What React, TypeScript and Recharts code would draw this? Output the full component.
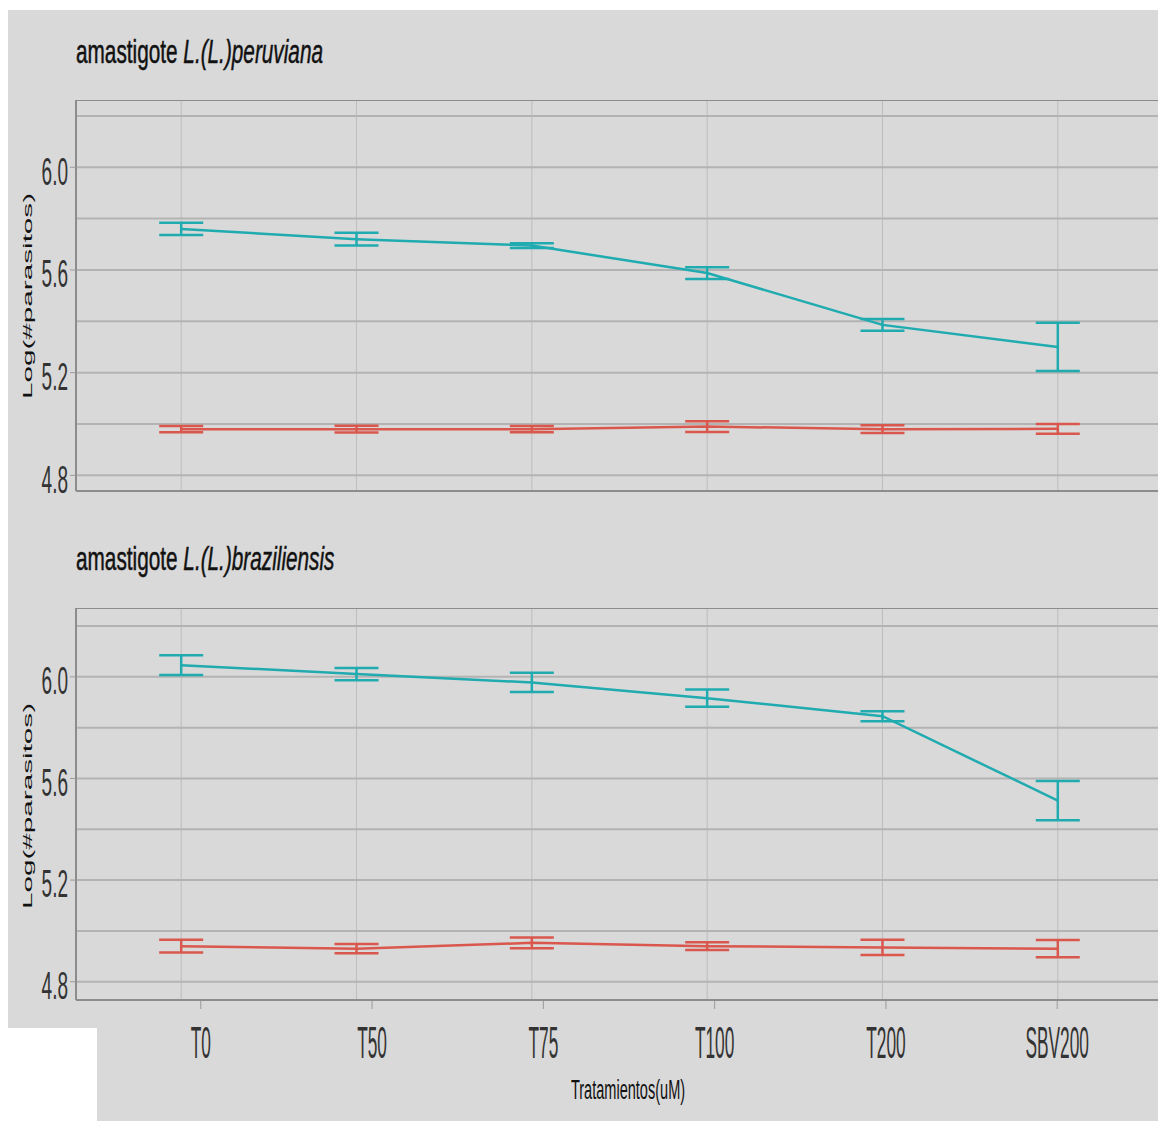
import { ComposedChart, Line, ErrorBar, XAxis, YAxis, CartesianGrid, ReferenceLine } from 'recharts';

// treatments on the shared x axis
const TREATMENTS = ['T0', 'T50', 'T75', 'T100', 'T200', 'SBV200'];
const X_TICKS = [0, 1, 2, 3, 4, 5];
const Y_TICKS = [4.8, 5.0, 5.2, 5.4, 5.6, 5.8, 6.0, 6.2];
const Y_LABELED = [4.8, 5.2, 5.6, 6.0];

// amastigote L.(L.)peruviana
const PERU_TEAL = [5.76, 5.72, 5.695, 5.588, 5.386, 5.3];
const PERU_TEAL_ERR = [0.024, 0.025, 0.009, 0.023, 0.023, 0.094];
const PERU_RED = [4.98, 4.98, 4.98, 4.99, 4.98, 4.981];
const PERU_RED_ERR = [0.012, 0.013, 0.012, 0.021, 0.015, 0.019];

// amastigote L.(L.)braziliensis
const BRAZ_TEAL = [6.046, 6.011, 5.978, 5.916, 5.845, 5.513];
const BRAZ_TEAL_ERR = [0.039, 0.024, 0.038, 0.034, 0.02, 0.077];
const BRAZ_RED = [4.94, 4.93, 4.953, 4.94, 4.935, 4.93];
const BRAZ_RED_ERR = [0.025, 0.018, 0.021, 0.015, 0.03, 0.034];

const BG = '#d9d9d9';
const TEAL = '#1fabb0';
const RED = '#d9574d';
const BORDER = '#8c8c8c';
const FONT = '"Liberation Sans", Arial, sans-serif';

const PLOT_LEFT = 76;
const PLOT_W = 1087;
const PAD_BOTTOM = 24; // room for the lowest tick label under the plot

const buildRows = (teal: number[], tealErr: number[], red: number[], redErr: number[]) =>
  TREATMENTS.map((name, i) => ({
    pos: i,
    name,
    teal: teal[i],
    tealErr: tealErr[i],
    red: red[i],
    redErr: redErr[i],
  }));

const peruRows = buildRows(PERU_TEAL, PERU_TEAL_ERR, PERU_RED, PERU_RED_ERR);
const brazRows = buildRows(BRAZ_TEAL, BRAZ_TEAL_ERR, BRAZ_RED, BRAZ_RED_ERR);

function YTick({ x, y, payload }: any) {
  const v = payload.value;
  if (!Y_LABELED.some(l => Math.abs(l - v) < 1e-6)) return <g />;
  return (
    <g>
      <line x1={x + 2} x2={x + 8} y1={y} y2={y} stroke="#9a9a9a" strokeWidth={1} />
      <text
        transform={`translate(${x}, ${y + 4}) scale(0.5, 1)`}
        textAnchor="end"
        dominantBaseline="central"
        fontSize={38}
        fontFamily={FONT}
        fill="#333"
      >
        {v.toFixed(1)}
      </text>
    </g>
  );
}

function XTick({ x, y, payload }: any) {
  return (
    <text
      transform={`translate(${x}, ${y + 31}) scale(0.385, 1)`}
      textAnchor="middle"
      dominantBaseline="central"
      fontSize={45}
      fontFamily={FONT}
      fill="#333"
    >
      {TREATMENTS[payload.value]}
    </text>
  );
}

function Panel({ rows, domain, top, height }: { rows: any[]; domain: [number, number]; top: number; height: number }) {
  return (
    <div style={{ position: 'absolute', left: 0, top, width: PLOT_LEFT + PLOT_W, height: height + PAD_BOTTOM }}>
      <ComposedChart
        width={PLOT_LEFT + PLOT_W}
        height={height + PAD_BOTTOM}
        data={rows}
        margin={{ top: 0, right: 0, bottom: PAD_BOTTOM, left: 0 }}
      >
        <CartesianGrid horizontal={false} stroke="#bdbdbd" strokeWidth={1} />
        <CartesianGrid vertical={false} stroke="#b3b3b3" strokeWidth={2} />
        <XAxis type="number" dataKey="pos" domain={[-0.6, 5.6]} ticks={X_TICKS} hide />
        <YAxis
          type="number"
          domain={domain}
          ticks={Y_TICKS}
          interval={0}
          allowDataOverflow
          width={PLOT_LEFT}
          tickLine={false}
          axisLine={{ stroke: BORDER, strokeWidth: 2 }}
          tick={<YTick />}
        />
        <ReferenceLine y={domain[1]} stroke={BORDER} strokeWidth={2} ifOverflow="extendDomain" />
        <ReferenceLine y={domain[0]} stroke={BORDER} strokeWidth={2} ifOverflow="extendDomain" />
        <Line dataKey="red" stroke={RED} strokeWidth={2.5} dot={false} isAnimationActive={false}>
          <ErrorBar dataKey="redErr" width={22} stroke={RED} strokeWidth={2.5} isAnimationActive={false} />
        </Line>
        <Line dataKey="teal" stroke={TEAL} strokeWidth={2.5} dot={false} isAnimationActive={false}>
          <ErrorBar dataKey="tealErr" width={22} stroke={TEAL} strokeWidth={2.5} isAnimationActive={false} />
        </Line>
      </ComposedChart>
    </div>
  );
}

export default function App() {
  return (
    <div style={{ position: 'absolute', left: 0, top: 0, width: 1158, height: 1121, background: '#fff', overflow: 'hidden' }}>
      <div style={{ position: 'absolute', left: 8, top: 10, width: 1150, height: 1018, background: BG }} />
      <div style={{ position: 'absolute', left: 97, top: 1028, width: 1061, height: 93, background: BG }} />

      {/* treatment axis under the lower panel */}
      <div style={{ position: 'absolute', left: 98, top: 1000, width: 1062, height: 121 }}>
        <ComposedChart width={1062} height={121} data={brazRows} margin={{ top: 0, right: 0, bottom: 0, left: 0 }}>
          <XAxis
            type="number"
            dataKey="pos"
            domain={[-0.6, 5.6]}
            ticks={X_TICKS}
            interval={0}
            height={120}
            axisLine={false}
            tickSize={8}
            tickLine={{ stroke: '#9a9a9a' }}
            tick={<XTick />}
          />
          <YAxis hide domain={[0, 1]} />
        </ComposedChart>
      </div>

      <Panel rows={peruRows} domain={[4.739, 6.262]} top={100} height={391} />
      <Panel rows={brazRows} domain={[4.728, 6.271]} top={608} height={392} />

      <svg width={1158} height={1121} style={{ position: 'absolute', left: 0, top: 0, pointerEvents: 'none' }}>
        <g fill="#111" stroke="#111" strokeWidth={0.5} fontSize={33.5} fontFamily={FONT}>
          <text transform="translate(76, 63) scale(0.62, 1)">
            amastigote <tspan fontStyle="italic">L.(L.)peruviana</tspan>
          </text>
          <text transform="translate(76, 570) scale(0.62, 1)">
            amastigote <tspan fontStyle="italic">L.(L.)braziliensis</tspan>
          </text>
        </g>
        <g fill="#111" fontSize={13.5} fontFamily={FONT} textAnchor="middle" dominantBaseline="central">
          <text transform="translate(27, 296) rotate(-90) scale(2.2, 1)">Log(#parasitos)</text>
          <text transform="translate(27, 806) rotate(-90) scale(2.2, 1)">Log(#parasitos)</text>
        </g>
        <text
          transform="translate(628, 1090) scale(0.52, 1)"
          textAnchor="middle"
          dominantBaseline="central"
          fontSize={28}
          fontFamily={FONT}
          fill="#111"
        >
          Tratamientos(uM)
        </text>
      </svg>
    </div>
  );
}
